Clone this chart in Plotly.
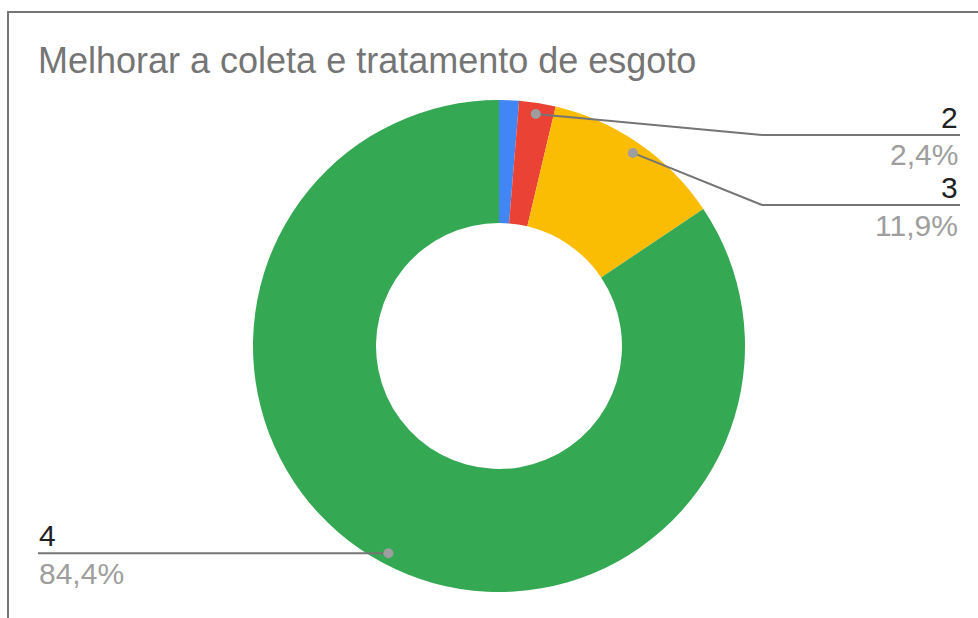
import math
import plotly.graph_objects as go

# Data
categories = ["1", "2", "3", "4"]
shares = [1.3, 2.4, 11.9, 84.4]
colors = ["#4285f4", "#ea4335", "#fbbc04", "#34a853"]
title_text = "Melhorar a coleta e tratamento de esgoto"

W, H = 978, 618
CX, CY, R = 499, 346, 246  # donut centre / outer radius in pixels
HOLE = 0.5

def fx(x):
    return x / W

def fy(y):
    return 1 - y / H

fig = go.Figure()
fig.add_trace(go.Pie(
    labels=categories,
    values=shares,
    marker=dict(colors=colors, line=dict(width=0)),
    hole=HOLE,
    sort=False,
    direction="clockwise",
    rotation=0,
    textinfo="none",
    hoverinfo="label+percent",
    showlegend=False,
    domain=dict(x=[fx(CX - R), fx(CX + R)], y=[fy(CY + R), fy(CY - R)]),
))

def fmt(v):
    return f"{v:.1f}".replace(".", ",") + "%"

# leader-line placement for the labelled slices: (index, side, line y, elbow x)
callouts = [(1, "right", 135, 762), (2, "right", 205, 762), (3, "left", None, None)]

total = sum(shares)
cum = [sum(shares[:i]) for i in range(len(shares))]
shapes = []
annotations = []
line_col = "#757575"
dot_col = "#9e9e9e"
FONT = "Arial, Liberation Sans, sans-serif"
for idx, side, ly, ex in callouts:
    mid = (cum[idx] + shares[idx] / 2) / total * 2 * math.pi
    dx = CX + 0.955 * R * math.sin(mid)
    dy = CY - 0.955 * R * math.cos(mid)
    if side == "right":
        shapes.append(dict(type="line", xref="paper", yref="paper",
                           x0=fx(dx), y0=fy(dy), x1=fx(ex), y1=fy(ly),
                           line=dict(color=line_col, width=2)))
        shapes.append(dict(type="line", xref="paper", yref="paper",
                           x0=fx(ex), y0=fy(ly), x1=fx(960), y1=fy(ly),
                           line=dict(color=line_col, width=2)))
        tx, anchor = 960, "right"
    else:
        ly = dy
        shapes.append(dict(type="line", xref="paper", yref="paper",
                           x0=fx(38), y0=fy(ly), x1=fx(dx), y1=fy(dy),
                           line=dict(color=line_col, width=2)))
        tx, anchor = 37, "left"
    shapes.append(dict(type="circle", xref="paper", yref="paper",
                       x0=fx(dx - 5), y0=fy(dy + 5), x1=fx(dx + 5), y1=fy(dy - 5),
                       fillcolor=dot_col, line=dict(width=0)))
    annotations.append(dict(x=fx(tx), y=fy(ly - 18), xref="paper", yref="paper",
                            text=categories[idx], showarrow=False,
                            xanchor=anchor, yanchor="middle",
                            font=dict(size=30, color="#212121", family=FONT)))
    annotations.append(dict(x=fx(tx), y=fy(ly + 20), xref="paper", yref="paper",
                            text=fmt(shares[idx]), showarrow=False,
                            xanchor=anchor, yanchor="middle",
                            font=dict(size=30, color="#9e9e9e", family=FONT)))

annotations.append(dict(x=fx(36), y=fy(61), xref="paper", yref="paper",
                        text=title_text, showarrow=False,
                        xanchor="left", yanchor="middle",
                        font=dict(size=36, color="#757575", family=FONT)))

# outer frame
shapes.append(dict(type="rect", xref="paper", yref="paper",
                   x0=fx(8), y0=fy(630), x1=fx(990), y1=fy(12),
                   line=dict(color="#757575", width=2)))

fig.update_layout(
    width=W, height=H,
    margin=dict(l=0, r=0, t=0, b=0),
    paper_bgcolor="white",
    plot_bgcolor="white",
    shapes=shapes,
    annotations=annotations,
)

fig.write_html("out.html")
